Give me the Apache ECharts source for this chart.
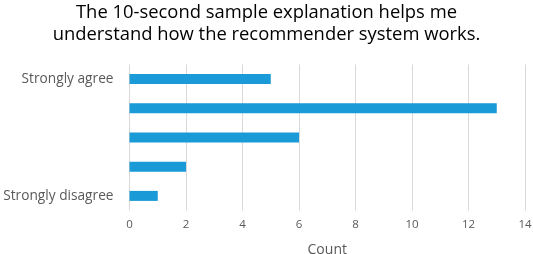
<!DOCTYPE html>
<html><head><meta charset="utf-8">
<script src="https://cdn.jsdelivr.net/npm/echarts@6/dist/echarts.min.js"></script>
<style>html,body{margin:0;padding:0;background:#fff}#c{width:533px;height:254px}</style>
</head><body><div id="c"></div>
<script>
const titleText = "The 10-second sample explanation helps me\nunderstand how the recommender system works.";
const categories = ["Strongly disagree", "", "", "", "Strongly agree"];
const counts = [1, 2, 6, 13, 5];
const xTicks = { min: 0, max: 14, interval: 2 };
const xAxisName = "Count";

const chart = echarts.init(document.getElementById('c'), null, {renderer: 'canvas'});
chart.setOption({
  animation: false,
  title: {
    text: titleText, left: 'center', top: -3,
    textStyle: { fontFamily: 'Open Sans', fontSize: 18.4, fontWeight: 'normal', color: '#000', lineHeight: 22 }
  },
  grid: { left: 129.5, right: 8, top: 64.5, bottom: 43.5, outerBoundsMode: 'none', containLabel: false },
  xAxis: {
    type: 'value', min: xTicks.min, max: xTicks.max, interval: xTicks.interval,
    name: xAxisName, nameLocation: 'middle', nameGap: 33,
    nameTextStyle: { fontFamily: 'Open Sans', fontSize: 14, color: '#595959' },
    axisLine: { show: false }, axisTick: { show: false },
    axisLabel: { fontFamily: 'Open Sans', fontSize: 11.5, color: '#595959', margin: 8.5 },
    splitLine: { lineStyle: { color: '#d9d9d9', width: 1 } }
  },
  yAxis: {
    type: 'category', data: categories,
    axisLine: { show: false }, axisTick: { show: false },
    axisLabel: { fontFamily: 'Open Sans', fontSize: 13.7, color: '#595959', margin: 16 }
  },
  series: [{
    type: 'bar', data: counts, barWidth: 10,
    itemStyle: { color: '#1a9ad6' }
  }]
});
</script></body></html>
